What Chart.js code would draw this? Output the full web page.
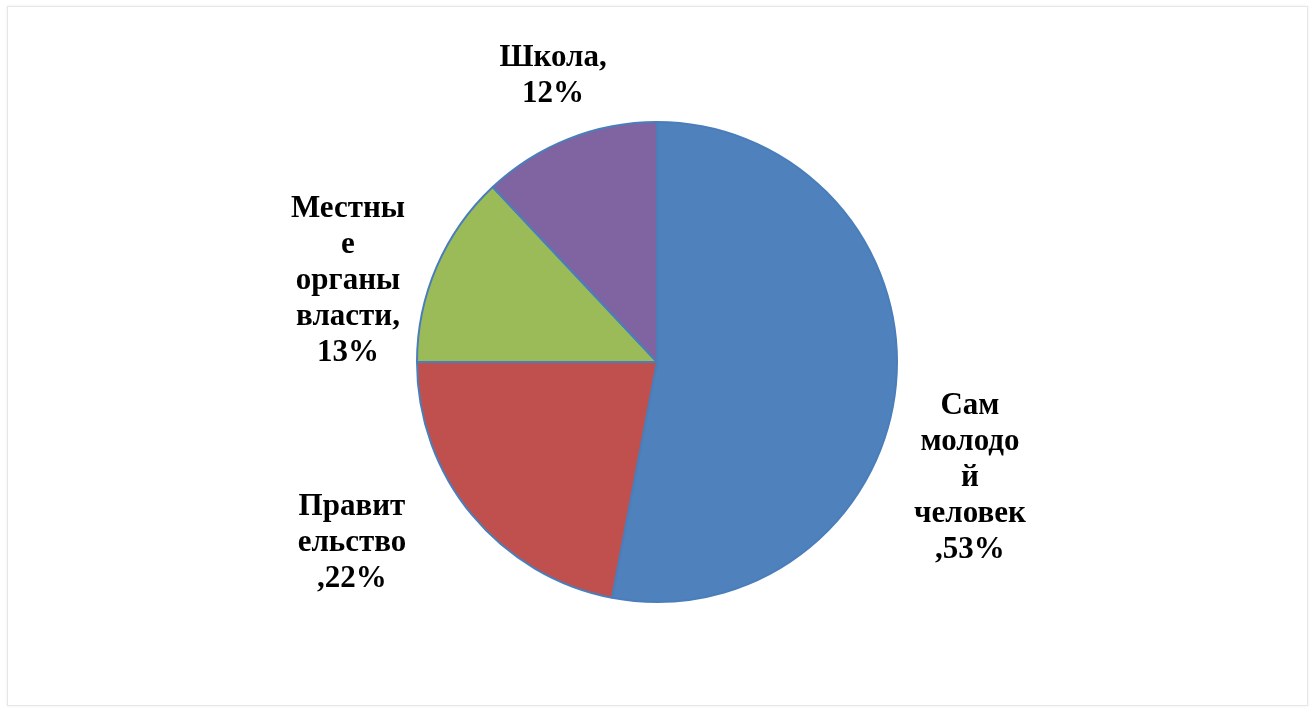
<!DOCTYPE html>
<html>
<head>
<meta charset="utf-8">
<script src="https://cdn.jsdelivr.net/npm/chart.js@4"></script>
<style>
  html, body { margin: 0; padding: 0; background: #fff; }
  #wrap { position: relative; width: 1316px; height: 713px; }
  #frame { position: absolute; left: 7px; top: 6px; width: 1299px; height: 698px; border: 1px solid #e6e6e6; box-shadow: 0 0 3px #eee; }
  canvas { position: absolute; left: 0; top: 0; }
</style>
</head>
<body>
<div id="wrap">
  <div id="frame"></div>
  <canvas id="pie" width="1316" height="713"></canvas>
</div>
<script>
// данные
var categories = ['Сам молодой человек', 'Правительство', 'Местные органы власти', 'Школа'];
var values = [53, 22, 13, 12];
var labelLines = [
  ['Сам', 'молодо', 'й', 'человек', ',53%'],
  ['Правит', 'ельство', ',22%'],
  ['Местны', 'е', 'органы', 'власти,', '13%'],
  ['Школа,', '12%']
];
var colors = ['#4f81bd', '#c0504d', '#9bbb59', '#8064a2'];

// где стоят подписи, в долях радиуса от центра
var labelOffsets = [[1.304, 0.483], [-1.271, 0.756], [-1.2875, -0.3375], [-0.433, -1.19]];

var labelsPlugin = {
  id: 'pieLabels',
  afterDatasetsDraw: function(chart) {
    var ctx = chart.ctx;
    var arcs = chart.getDatasetMeta(0).data;
    ctx.save();
    ctx.font = 'bold 31px "Liberation Serif", "Times New Roman", serif';
    ctx.fillStyle = '#000';
    ctx.textAlign = 'center';
    ctx.textBaseline = 'middle';
    var lh = 36;
    for (var i = 0; i < arcs.length; i++) {
      var a = arcs[i];
      var cx = a.x + labelOffsets[i][0] * a.outerRadius;
      var cy = a.y + labelOffsets[i][1] * a.outerRadius;
      var lines = labelLines[i];
      var y0 = cy - (lines.length - 1) * lh / 2;
      for (var j = 0; j < lines.length; j++) {
        ctx.fillText(lines[j], cx, y0 + j * lh);
      }
    }
    ctx.restore();
  }
};

var ctx = document.getElementById('pie');
var myPie = new Chart(ctx, {
  type: 'pie',
  data: {
    labels: categories,
    datasets: [{
      data: values,
      backgroundColor: colors,
      borderColor: '#4a7ebb',
      borderWidth: 2
    }]
  },
  options: {
    responsive: false,
    animation: false,
    layout: { padding: { top: 121, bottom: 110, left: 0, right: 2 } },
    plugins: {
      legend: { display: false },
      tooltip: { enabled: false }
    }
  },
  plugins: [labelsPlugin]
});
</script>
</body>
</html>
